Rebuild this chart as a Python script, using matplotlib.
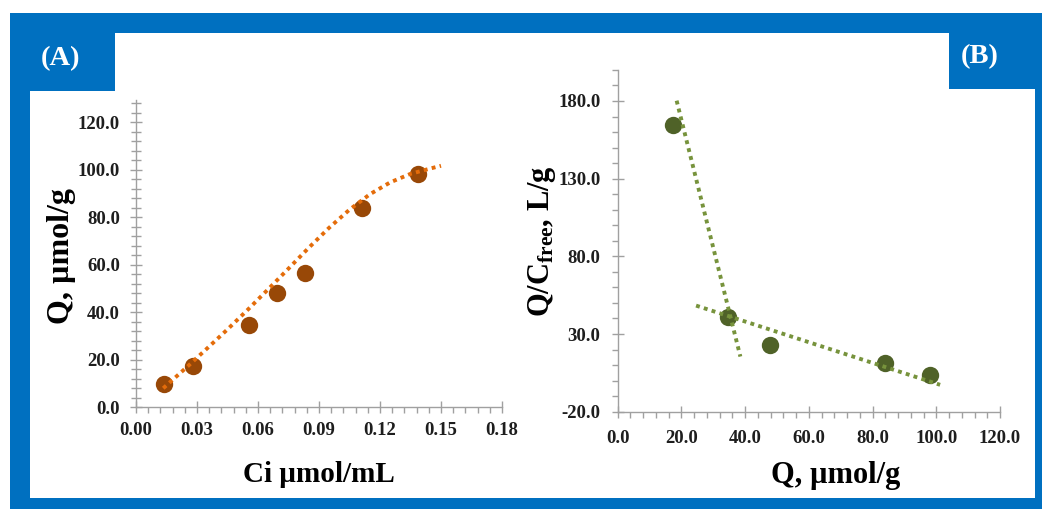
import matplotlib
matplotlib.use("Agg")
import matplotlib.pyplot as plt
from matplotlib.patches import Rectangle, FancyBboxPatch
from matplotlib.ticker import MultipleLocator, FormatStrFormatter

plt.rcParams['font.family'] = ['Liberation Serif', 'DejaVu Serif']
plt.rcParams['font.weight'] = 'bold'
plt.rcParams['mathtext.fontset'] = 'custom'
plt.rcParams['mathtext.rm'] = 'Liberation Serif:bold'
plt.rcParams['mathtext.bf'] = 'Liberation Serif:bold'
plt.rcParams['mathtext.it'] = 'Liberation Serif:bold:italic'

# (A) binding isotherm
ci = [0.0139, 0.0278, 0.0556, 0.0694, 0.0833, 0.1111, 0.1389]
q_a = [9.7, 17.4, 34.5, 47.9, 56.3, 83.9, 98.0]
fit_ci = [0.0134, 0.025, 0.035, 0.045, 0.055, 0.065, 0.075, 0.085, 0.095,
          0.105, 0.115, 0.125, 0.135, 0.145, 0.150]
fit_q = [7.9, 16.8, 24.7, 32.7, 41.0, 49.6, 58.3, 67.1, 75.5, 83.1, 89.6,
         94.6, 98.2, 100.5, 101.6]

# (B) Scatchard plot
q_b = [17.4, 34.5, 47.9, 83.9, 98.0]
q_over_c = [164.4, 41.2, 23.0, 11.2, 3.7]
high_q = [18.5, 38.5]
high_qc = [180.2, 15.5]
low_q = [24.6, 101.2]
low_qc = [48.3, -2.7]

BLUE = '#0070C0'
BROWN = '#984807'
ORANGE = '#E46C0A'
OLIVE = '#4F6228'
GREEN = '#77933C'
AXIS_GRAY = '#A0A0A0'
TXT = '#1e1e1e'

W, H = 1042, 509
fig = plt.figure(figsize=(W / 100, H / 100), dpi=100)
fig.patch.set_facecolor('white')


def px_rect(x0, y0, x1, y1, **kw):
    """Rectangle given in pixel coordinates measured from the top-left."""
    return Rectangle((x0 / W, 1 - y1 / H), (x1 - x0) / W, (y1 - y0) / H,
                     transform=fig.transFigure, **kw)


# blue frame with rounded top-left corner
frame = FancyBboxPatch((10 / W, 0), (W - 10) / W, (H - 13) / H,
                       boxstyle='round,pad=0,rounding_size=0.012',
                       transform=fig.transFigure, facecolor=BLUE,
                       edgecolor='none', zorder=0, mutation_aspect=W / H)
fig.patches.append(frame)
fig.patches.append(px_rect(W - 14, 13, W, H, facecolor=BLUE, edgecolor='none', zorder=0))
fig.patches.append(px_rect(10, 60, W, H, facecolor=BLUE, edgecolor='none', zorder=0))
fig.patches.append(px_rect(30, 33, 1035, 498, facecolor='white', edgecolor='none', zorder=1))
fig.patches.append(px_rect(10, 13, 115, 91, facecolor=BLUE, edgecolor='none', zorder=2))
fig.patches.append(px_rect(949, 20, 1035, 89, facecolor=BLUE, edgecolor='none', zorder=2))

fig.text(60 / W, 1 - 59 / H, '(A)', color='white', fontsize=20.5, fontweight='bold',
         ha='center', va='center', zorder=3)
fig.text(980 / W, 1 - 57 / H, '(B)', color='white', fontsize=20.5, fontweight='bold',
         ha='center', va='center', zorder=3)


def style_axes(ax, y_minor_dir='inout'):
    ax.set_facecolor('none')
    for s in ('top', 'right'):
        ax.spines[s].set_visible(False)
    for s in ('left', 'bottom'):
        ax.spines[s].set_color(AXIS_GRAY)
        ax.spines[s].set_linewidth(1.0)
    ax.tick_params(which='major', direction='inout', length=9, width=1,
                   color=AXIS_GRAY, labelsize=13.5, labelcolor=TXT)
    ax.tick_params(axis='x', which='minor', direction='out', length=4, width=1,
                   color=AXIS_GRAY)
    ax.tick_params(axis='y', which='minor', direction=y_minor_dir,
                   length=7 if y_minor_dir == 'inout' else 4, width=1,
                   color=AXIS_GRAY)
    for lab in ax.get_xticklabels() + ax.get_yticklabels():
        lab.set_fontweight('bold')


DOTS = (0, (1, 1.1))

# ---- panel A ----
axA = fig.add_axes([136 / W, 1 - 407 / H, 366 / W, 307 / H])
axA.set_zorder(5)
axA.plot(ci, q_a, 'o', color=BROWN, markersize=12.5, markeredgewidth=0, zorder=3)
axA.plot(fit_ci, fit_q, color=ORANGE, linewidth=2.8, linestyle=DOTS,
         dash_capstyle='butt', zorder=4)
axA.set_xlim(0, 0.18)
axA.set_ylim(0, 129.3)
axA.xaxis.set_major_locator(MultipleLocator(0.03))
axA.xaxis.set_minor_locator(MultipleLocator(0.006))
axA.yaxis.set_major_locator(MultipleLocator(20))
axA.yaxis.set_minor_locator(MultipleLocator(4))
axA.xaxis.set_major_formatter(FormatStrFormatter('%.2f'))
axA.yaxis.set_major_formatter(FormatStrFormatter('%.1f'))
style_axes(axA)
axA.tick_params(axis='x', which='major', pad=6)
axA.tick_params(axis='y', which='major', pad=7)
fig.text(319 / W, 1 - 474 / H, 'Ci µmol/mL', fontsize=21, fontweight='bold',
         color='black', ha='center', va='center', zorder=6)
fig.text(61 / W, 1 - 256 / H, 'Q, µmol/g', fontsize=23, fontweight='bold',
         color='black', ha='center', va='center', rotation=90, zorder=6)

# ---- panel B ----
axB = fig.add_axes([617.7 / W, 1 - 411.7 / H, 382.3 / W, 341.8 / H])
axB.set_zorder(5)
axB.plot(q_b, q_over_c, 'o', color=OLIVE, markersize=12.5, markeredgewidth=0, zorder=3)
axB.plot(high_q, high_qc, color=GREEN, linewidth=2.8, linestyle=DOTS,
         dash_capstyle='butt', zorder=4)
axB.plot(low_q, low_qc, color=GREEN, linewidth=2.8, linestyle=DOTS,
         dash_capstyle='butt', zorder=4)
axB.set_xlim(0, 120)
axB.set_ylim(-20, 200)
axB.xaxis.set_major_locator(MultipleLocator(20))
axB.xaxis.set_minor_locator(MultipleLocator(4))
axB.set_yticks([-20, 30, 80, 130, 180])
axB.set_yticks([v for v in range(-20, 201, 10)], minor=True)
axB.xaxis.set_major_formatter(FormatStrFormatter('%.1f'))
axB.yaxis.set_major_formatter(FormatStrFormatter('%.1f'))
style_axes(axB, y_minor_dir='out')
axB.tick_params(axis='x', which='major', pad=9)
axB.tick_params(axis='y', which='major', pad=8)
fig.text(836 / W, 1 - 475 / H, 'Q, µmol/g', fontsize=22, fontweight='bold',
         color='black', ha='center', va='center', zorder=6)
fig.text(542 / W, 1 - 241 / H, r'Q/C$_{\mathbf{free}}$, L/g', fontsize=22,
         fontweight='bold', color='black', ha='center', va='center',
         rotation=90, zorder=6)

fig.savefig('out.png', dpi=100, facecolor=fig.get_facecolor())
